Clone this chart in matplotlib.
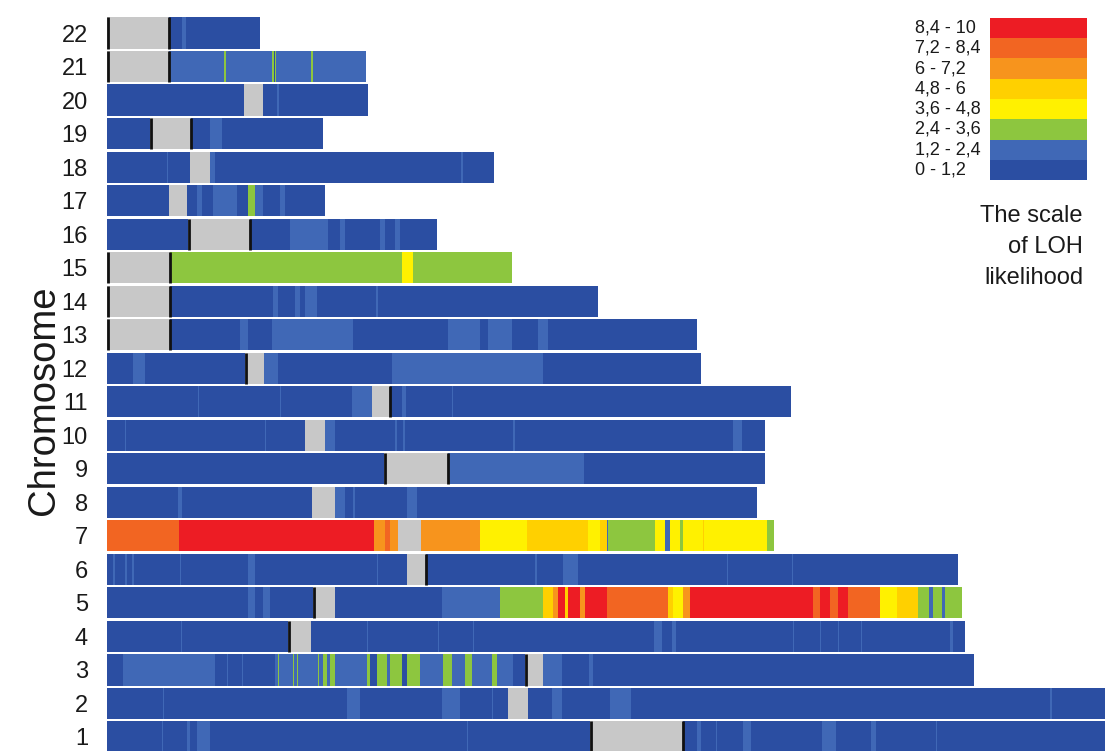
import matplotlib
matplotlib.use("Agg")
import matplotlib.pyplot as plt

# LOH likelihood bins, lowest first
bin_labels = ["0 - 1,2", "1,2 - 2,4", "2,4 - 3,6", "3,6 - 4,8",
              "4,8 - 6", "6 - 7,2", "7,2 - 8,4", "8,4 - 10"]
bin_colors = ["#2b4ea2", "#4068b6", "#8dc63f", "#fff100",
              "#ffd000", "#f7941d", "#f26522", "#ed1c24"]
centromere_color = "#c8c8c8"

# segments per chromosome: (end position, bin index), -1 = centromere
chr1 = [(55, 0), (56, 1), (80, 0), (83, 1), (90, 0), (103, 1), (360, 0), (361, 1), (483, 0),
        (576, -1), (590, 0), (594, 1), (609, 0), (610, 1), (636, 0), (644, 1), (715, 0),
        (729, 1), (764, 0), (769, 1), (829, 0), (830, 1), (1010, 0)]
chr2 = [(56, 0), (57, 1), (240, 0), (253, 1), (335, 0), (353, 1), (385, 0), (386, 1), (401, 0),
        (421, -1), (445, 0), (455, 1), (503, 0), (524, 1), (943, 0), (945, 1), (1010, 0)]
chr3 = [(16, 0), (108, 1), (120, 0), (121, 1), (135, 0), (136, 1), (168, 0), (171, 1), (172, 2),
        (186, 1), (187, 2), (190, 1), (191, 2), (211, 1), (212, 2), (216, 1), (220, 2), (223, 1),
        (228, 2), (260, 1), (263, 2), (270, 0), (280, 2), (283, 1), (295, 2), (300, 0), (313, 2),
        (336, 1), (345, 2), (358, 1), (365, 2), (385, 1), (390, 2), (406, 1), (418, 0), (436, -1),
        (455, 1), (482, 0), (486, 1), (867, 0)]
chr4 = [(74, 0), (75, 1), (181, 0), (204, -1), (260, 0), (261, 1), (331, 0), (332, 1), (366, 0),
        (367, 1), (547, 0), (555, 1), (565, 0), (569, 1), (686, 0), (687, 1), (713, 0), (714, 1),
        (731, 0), (732, 1), (754, 0), (755, 1), (843, 0), (846, 1), (858, 0)]
chr5 = [(141, 0), (148, 1), (156, 0), (163, 1), (206, 0), (228, -1), (335, 0), (393, 1), (436, 2),
        (446, 4), (451, 5), (458, 7), (461, 4), (473, 7), (478, 5), (500, 7), (561, 6), (566, 4),
        (576, 3), (583, 5), (706, 7), (713, 6), (723, 7), (731, 6), (741, 7), (773, 6), (790, 3),
        (811, 4), (822, 2), (826, 1), (835, 2), (838, 1), (855, 2)]
chr6 = [(6, 0), (8, 1), (18, 0), (20, 1), (25, 0), (27, 1), (73, 0), (74, 1), (141, 0), (148, 1),
        (270, 0), (271, 1), (300, 0), (319, -1), (428, 0), (430, 1), (456, 0), (471, 1), (620, 0),
        (621, 1), (685, 0), (686, 1), (851, 0)]
chr7 = [(72, 6), (267, 7), (278, 5), (283, 6), (291, 5), (314, -1), (373, 5), (420, 3), (481, 4),
        (493, 3), (500, 4), (501, 1), (548, 2), (558, 3), (563, 1), (573, 3), (576, 2), (596, 3),
        (597, 4), (660, 3), (667, 2)]
chr8 = [(71, 0), (75, 1), (205, 0), (228, -1), (238, 1), (246, 0), (248, 1), (300, 0), (310, 1),
        (650, 0)]
chr9 = [(277, 0), (341, -1), (477, 1), (658, 0)]
chr10 = [(18, 0), (19, 1), (158, 0), (159, 1), (198, 0), (218, -1), (228, 1), (288, 0), (290, 1),
         (296, 0), (298, 1), (406, 0), (408, 1), (626, 0), (635, 1), (658, 0)]
chr11 = [(91, 0), (92, 1), (173, 0), (174, 1), (245, 0), (265, 1), (283, -1), (295, 0), (299, 1),
         (345, 0), (346, 1), (684, 0)]
chr12 = [(26, 0), (38, 1), (138, 0), (157, -1), (171, 1), (285, 0), (436, 1), (594, 0)]
chr13 = [(63, -1), (133, 0), (141, 1), (165, 0), (246, 1), (341, 0), (373, 1), (381, 0), (405, 1),
         (431, 0), (441, 1), (590, 0)]
chr14 = [(63, -1), (166, 0), (171, 1), (188, 0), (193, 1), (198, 0), (210, 1), (269, 0), (271, 1),
         (491, 0)]
chr15 = [(63, -1), (295, 2), (306, 3), (405, 2)]
chr16 = [(81, 0), (143, -1), (183, 0), (221, 1), (233, 0), (238, 1), (273, 0), (278, 1), (288, 0),
         (293, 1), (330, 0)]
chr17 = [(62, 0), (80, -1), (90, 0), (95, 1), (106, 0), (130, 1), (141, 0), (148, 2), (156, 1),
         (173, 0), (178, 1), (218, 0)]
chr18 = [(60, 0), (61, 1), (83, 0), (103, -1), (108, 1), (354, 0), (356, 1), (387, 0)]
chr19 = [(43, 0), (84, -1), (103, 0), (115, 1), (216, 0)]
chr20 = [(137, 0), (156, -1), (170, 0), (172, 1), (261, 0)]
chr21 = [(62, -1), (117, 1), (119, 2), (165, 1), (167, 2), (168, 0), (169, 2), (204, 1), (206, 2),
         (259, 1)]
chr22 = [(62, -1), (75, 0), (79, 1), (153, 0)]

chromosomes = [chr1, chr2, chr3, chr4, chr5, chr6, chr7, chr8, chr9, chr10, chr11,
               chr12, chr13, chr14, chr15, chr16, chr17, chr18, chr19, chr20, chr21, chr22]

# which centromere borders are drawn with a dark line
left_edge = [1, 3, 4, 5, 9, 12, 13, 14, 15, 16, 19, 21, 22]
right_edge = [1, 6, 9, 11, 13, 14, 15, 16, 19, 21, 22]

plt.rcParams["font.family"] = ["Liberation Sans", "DejaVu Sans"]

W, H = 1105, 751
fig = plt.figure(figsize=(W / 100, H / 100), dpi=100)
ax = fig.add_axes([106 / W, 0, 999 / W, 1])
bar_h = 0.93

for num, segs in enumerate(chromosomes, start=1):
    start = 0
    lefts, widths, colors = [], [], []
    for end, lvl in segs:
        lefts.append(start)
        widths.append(end - start)
        colors.append(centromere_color if lvl < 0 else bin_colors[lvl])
        if lvl < 0:
            if num in left_edge:
                ax.vlines(start + 0.5, num - bar_h / 2, num + bar_h / 2, color="#111111", lw=2, zorder=3)
            if num in right_edge:
                ax.vlines(end - 0.5, num - bar_h / 2, num + bar_h / 2, color="#111111", lw=2, zorder=3)
        start = end
    ax.barh([num] * len(lefts), widths, left=lefts, height=bar_h, color=colors,
            linewidth=0, antialiased=False)

ax.set_xlim(-1, 998)
ax.set_ylim(0.582, 22.985)
ax.set_yticks(range(1, 23))
ax.set_yticklabels([str(i) for i in range(1, 23)], fontsize=17, color="#1a1a1a")
ax.tick_params(axis="y", length=0, pad=13)
ax.set_xticks([])
for s in ax.spines.values():
    s.set_visible(False)

fig.text(44 / W, 1 - 400 / H, "Chromosome", rotation=90, ha="center", va="center",
         fontsize=27.5, color="#1a1a1a")

# legend colour scale
lax = fig.add_axes([990 / W, 1 - 180 / H, 97 / W, 162 / H])
lax.barh(range(8), [1] * 8, left=0, height=1.0, color=bin_colors, linewidth=0)
lax.set_xlim(0, 1)
lax.set_ylim(-0.5, 7.5)
lax.axis("off")
for i, lab in enumerate(bin_labels):
    lax.text(-75 / 97, i, lab, ha="left", va="center", fontsize=13, color="#1a1a1a", clip_on=False)

for txt, yb in zip(["The scale", "of LOH", "likelihood"], [222, 253, 284]):
    fig.text(1083 / W, 1 - yb / H, txt, ha="right", va="baseline", fontsize=17, color="#1a1a1a")

fig.savefig("out.png", dpi=100)
